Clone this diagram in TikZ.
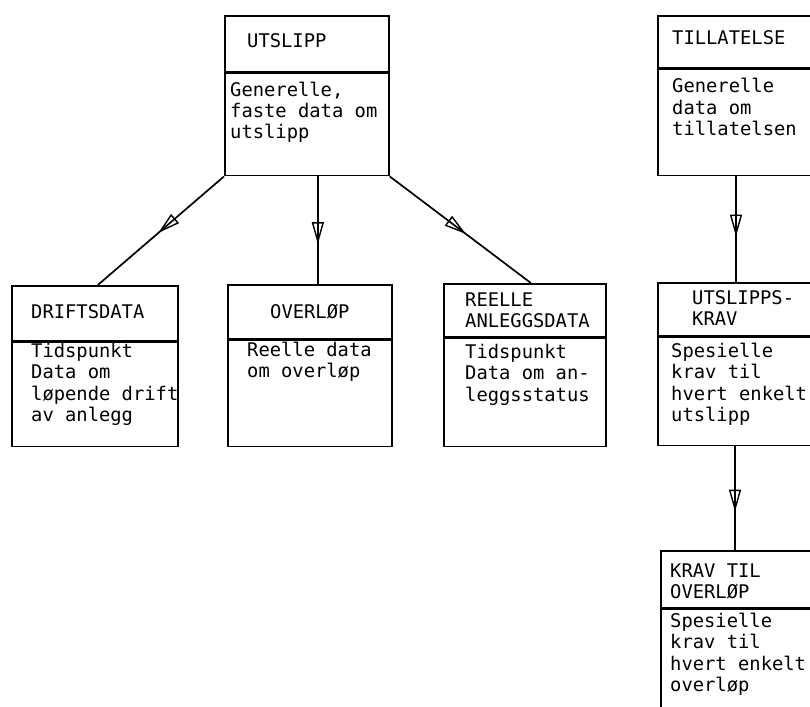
\documentclass[tikz,border=0pt]{standalone}
\usepackage{fontspec}
\newfontfamily\monofnt{DejaVu Sans Mono}
\usetikzlibrary{arrows.meta,decorations.markings,calc}
\tikzset{
  box/.style={draw, line width=1.7pt, inner sep=0pt, anchor=north west},
  txt/.style={anchor=base west, inner sep=0pt, font=\monofnt\fontsize{18.8}{21.5}\selectfont},
  conn/.style={line width=1.7pt, postaction={decorate},
    decoration={markings, mark=at position #1 with {\arrow[line width=1.4pt]{Triangle[open,length=22pt,width=12pt]}}}},
}
\newcommand{\lines}[1]{\begin{tabular}[t]{@{}l@{}}#1\end{tabular}}
\begin{document}
\begin{tikzpicture}[x=1pt,y=-1pt]
\useasboundingbox[fill=white] (0,0) rectangle (810,706);
% UTSLIPP
\node[box, minimum width=164pt, minimum height=56pt] (uh) at (224,15) {};
\node[box, minimum width=164pt, minimum height=102pt] (ub) at (uh.south west) {};
\node[txt] (uht) at (247,48) {UTSLIPP};
\node[txt] (ubt) at (230,96) {\lines{Generelle,\\faste data om\\utslipp}};
% TILLATELSE
\node[box, minimum width=190pt, minimum height=52pt] (th) at (657,15) {};
\node[box, minimum width=190pt, minimum height=106pt] (tb) at (th.south west) {};
\node[txt] (tht) at (672,45) {TILLATELSE};
\node[txt] (tbt) at (672,93) {\lines{Generelle\\data om\\tillatelsen}};
% DRIFTSDATA
\node[box, minimum width=166pt, minimum height=55pt] (dh) at (11,285) {};
\node[box, minimum width=166pt, minimum height=104pt] (db) at (dh.south west) {};
\node[txt] (dht) at (31,318) {DRIFTSDATA};
\node[txt] (dbt) at (31,357) {\lines{Tidspunkt\\Data om\\løpende drift\\av anlegg}};
% OVERLOP
\node[box, minimum width=164pt, minimum height=54pt] (oh) at (227,284) {};
\node[box, minimum width=164pt, minimum height=106pt] (ob) at (oh.south west) {};
\node[txt] (oht) at (270,318) {OVERLØP};
\node[txt] (obt) at (247,356) {\lines{Reelle data\\om overløp}};
% REELLE ANLEGGSDATA
\node[box, minimum width=162pt, minimum height=53pt] (rh) at (443,283) {};
\node[box, minimum width=162pt, minimum height=108pt] (rb) at (rh.south west) {};
\node[txt] (rht) at (465,306) {\lines{REELLE\\ANLEGGSDATA}};
\node[txt] (rbt) at (465,358) {\lines{Tidspunkt\\Data om an-\\leggsstatus}};
% UTSLIPPS-KRAV
\node[box, minimum width=190pt, minimum height=53pt] (kh) at (657,282) {};
\node[box, minimum width=190pt, minimum height=108pt] (kb) at (kh.south west) {};
\node[txt] (kht) at (692,304) {\lines{UTSLIPPS-\\KRAV}};
\node[txt] (kbt) at (671,357) {\lines{Spesielle\\krav til\\hvert enkelt\\utslipp}};
% KRAV TIL OVERLOP
\node[box, minimum width=190pt, minimum height=57pt] (vh) at (660,550) {};
\node[box, minimum width=190pt, minimum height=130pt] (vb) at (vh.south west) {};
\node[txt] (vht) at (670,577) {\lines{KRAV TIL\\OVERLØP}};
\node[txt] (vbt) at (670,627) {\lines{Spesielle\\krav til\\hvert enkelt\\overløp}};
% connectors
\draw[conn=0.52] (ub.south west) -- ([xshift=3pt]dh.north);
\draw[conn=0.63] ([xshift=11pt]ub.south) -- ([xshift=8pt]oh.north);
\draw[conn=0.54] (ub.south east) -- ([xshift=6pt]rh.north);
\draw[conn=0.57] ([xshift=79pt]tb.south west) -- ([xshift=79pt]kh.north west);
\draw[conn=0.63] ([xshift=78pt]kb.south west) -- ([xshift=75pt]vh.north west);
\end{tikzpicture}
\end{document}
